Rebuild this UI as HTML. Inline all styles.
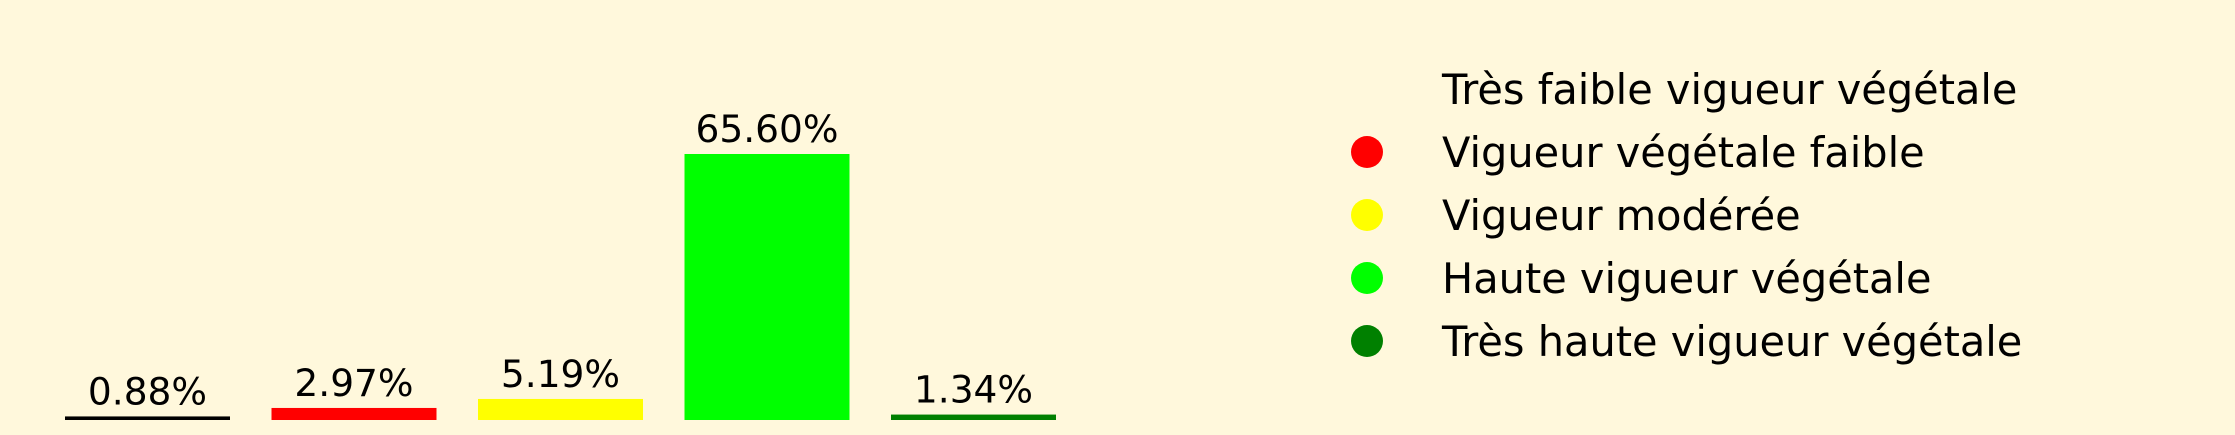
<!DOCTYPE html>
<html><head><meta charset="utf-8"><style>
html,body{margin:0;padding:0;background:#fff8dc;}
svg{display:block;font-family:"DejaVu Sans","Liberation Sans",sans-serif;}
</style></head><body>
<svg id="chart" width="2235" height="435" viewBox="0 0 2235 435" xmlns="http://www.w3.org/2000/svg">
<rect x="0" y="0" width="2235" height="435" fill="#fff8dc"/>
<g id="bars"></g>
<g id="legend"></g>
</svg>
<script>
const categories = ["Très faible vigueur végétale","Vigueur végétale faible","Vigueur modérée","Haute vigueur végétale","Très haute vigueur végétale"];
const values = [0.88, 2.97, 5.19, 65.60, 1.34];
const colors = ["#000000","#ff0000","#ffff00","#00ff00","#008000"];
const labels = ["0.88%","2.97%","5.19%","65.60%","1.34%"];

const NS = "http://www.w3.org/2000/svg";
const baseY = 420, pxPer = 266/65.6;
const x0 = 65, step = 206.5, bw = 165;
function xScale(i){ return x0 + i*step; }
function yScale(v){ return baseY - v*pxPer; }

const bars = document.getElementById('bars');
values.forEach((v,i)=>{
  const r = document.createElementNS(NS,'rect');
  
  
  r.setAttribute('x', xScale(i));
  r.setAttribute('y', yScale(v));
  r.setAttribute('width', bw);
  r.setAttribute('height', baseY - yScale(v));
  r.setAttribute('fill', colors[i]);
  bars.appendChild(r);
  const t = document.createElementNS(NS,'text');
  
  
  t.setAttribute('x', xScale(i)+bw/2);
  t.setAttribute('y', yScale(v)-12);
  t.setAttribute('text-anchor','middle');
  t.setAttribute('font-size','37.5');
  t.setAttribute('fill','#000');
  t.textContent = labels[i];
  bars.appendChild(t);
});

const legend = document.getElementById('legend');
categories.forEach((c,i)=>{
  const cy = 89 + i*63;
  if(i>0){
    const e = document.createElementNS(NS,'circle');
    
    
    e.setAttribute('cx',1367);
    e.setAttribute('cy',cy);
    e.setAttribute('r',16);
    e.setAttribute('fill',colors[i]);
    legend.appendChild(e);
  }
  const t = document.createElementNS(NS,'text');
  
  
  t.setAttribute('x',1442);
  t.setAttribute('y',104 + i*63);
  t.setAttribute('font-size','41.5');
  t.setAttribute('fill','#000');
  t.textContent = c;
  legend.appendChild(t);
});
</script>
</body></html>
